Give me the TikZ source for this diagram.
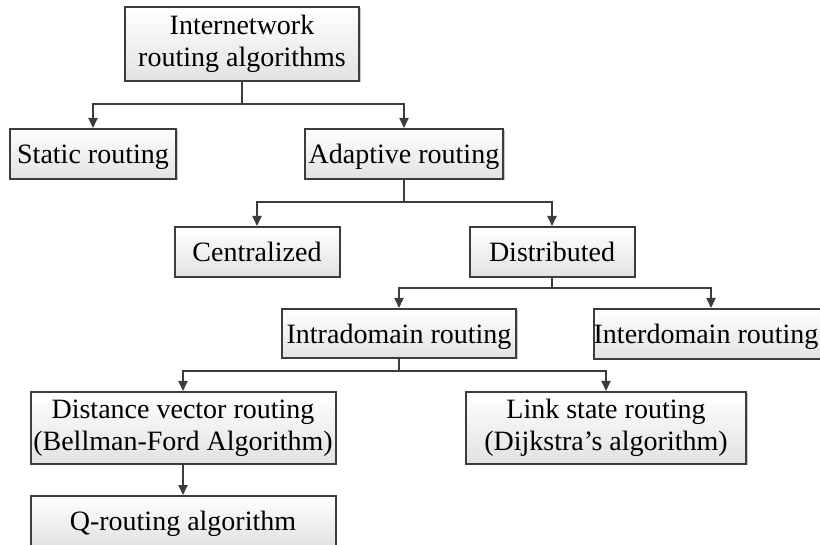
\documentclass[tikz,border=0pt]{standalone}
\usepackage{fontspec}
\setmainfont{Liberation Serif}
\usetikzlibrary{arrows.meta,shadows}
\definecolor{linec}{HTML}{3C3C3C}
\definecolor{boxbot}{HTML}{E2E2E2}
\begin{document}
\begin{tikzpicture}[x=1pt,y=-1pt,
  box/.style={draw=linec, line width=2pt, top color=white, bottom color=boxbot,
    drop shadow={shadow xshift=1.5pt,shadow yshift=-1.5pt,opacity=0.22,fill=black},
    inner sep=0pt, align=center, font=\fontsize{28}{32}\selectfont},
  one/.style={box, text depth=0pt},
  conn/.style={draw=linec, line width=2pt},
  arr/.style={conn, -{Triangle[width=9pt,length=10pt]}},
]
\useasboundingbox (0,0) rectangle (820,545);
\clip (0,0) rectangle (820,545);

\node[box, minimum width=234pt, minimum height=74pt] (top) at (242,44) {Internetwork\\routing algorithms};
\node[one, minimum width=166pt, minimum height=50pt] (static) at (93,154) {Static routing};
\node[one, minimum width=198pt, minimum height=50pt] (adapt) at (404,154) {Adaptive routing};
\node[one, minimum width=165pt, minimum height=50pt] (central) at (257,252) {Centralized};
\node[one, minimum width=165pt, minimum height=50pt] (distr) at (552,252) {Distributed};
\node[one, minimum width=234pt, minimum height=49pt] (intra) at (399,333.5) {Intradomain routing};
\node[one, minimum width=234pt, minimum height=50pt] (inter) at (711,334) {Interdomain routing\hspace*{10pt}};
\node[box, minimum width=305pt, minimum height=72pt] (dist) at (183,428) {Distance vector routing\\(Bellman-Ford Algorithm)};
\node[box, minimum width=280pt, minimum height=72pt] (link) at (606,428) {Link state routing\\(Dijkstra’s algorithm)};
\node[one, minimum width=305pt, minimum height=50pt] (q) at (183,521) {Q-routing algorithm};

\coordinate (j1) at (242,104);
\coordinate (j2) at (404,202);
\coordinate (j3) at (552,288);
\coordinate (j4) at (399,371);

\draw[conn] (top.south) -- (j1);
\draw[arr] (j1) -| (static.north);
\draw[arr] (j1) -| (adapt.north);

\draw[conn] (adapt.south) -- (j2);
\draw[arr] (j2) -| (central.north);
\draw[arr] (j2) -| (distr.north);

\draw[conn] (distr.south) -- (j3);
\draw[arr] (j3) -| (intra.north);
\draw[arr] (j3) -| (inter.north);

\draw[conn] (intra.south) -- (j4);
\draw[arr] (j4) -| (dist.north);
\draw[arr] (j4) -| (link.north);

\draw[arr] (dist.south) -- (q.north);
\end{tikzpicture}
\end{document}
